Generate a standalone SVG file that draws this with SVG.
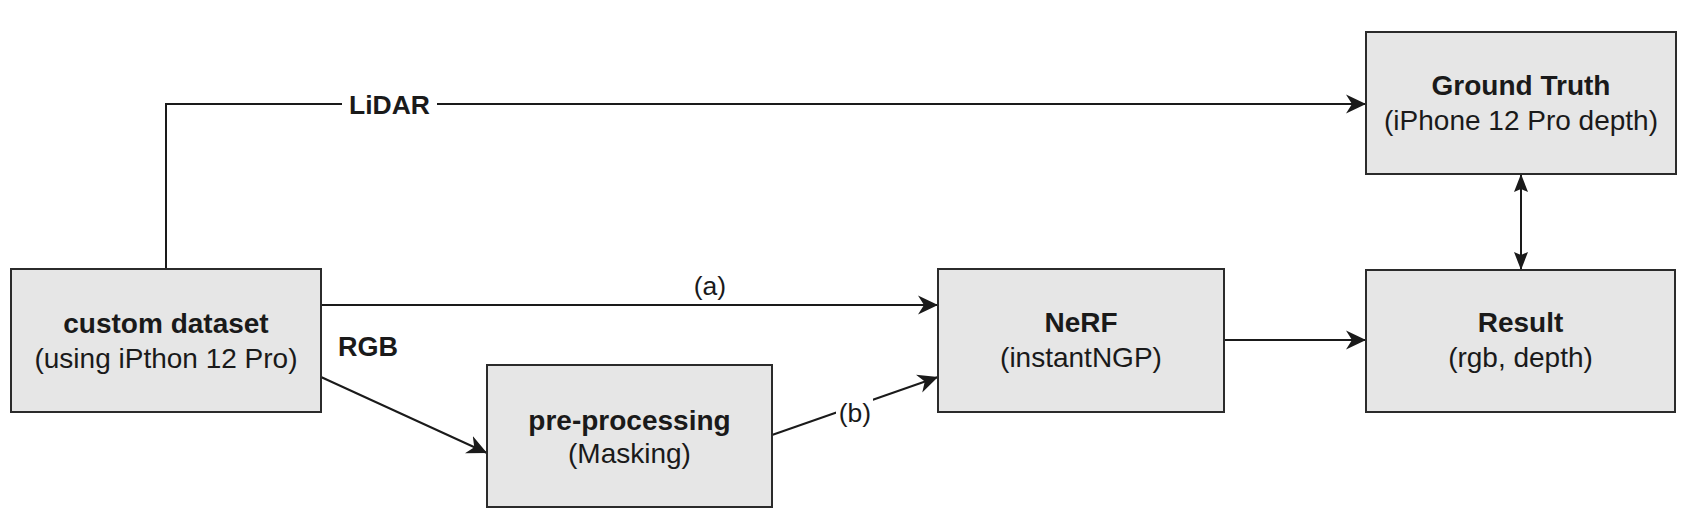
<svg xmlns="http://www.w3.org/2000/svg" width="1706" height="529" viewBox="0 0 1706 529">
  <style>
    .box { fill: #e6e6e6; stroke: #2b2b2b; stroke-width: 2; }
    .t { font-family: "Liberation Sans", Arial, sans-serif; font-size: 28px; fill: #1a1a1a; text-anchor: middle; }
    .b { font-weight: bold; }
    .lbl { font-family: "Liberation Sans", Arial, sans-serif; font-size: 26.5px; fill: #1a1a1a; text-anchor: middle; }
    .edge { fill: none; stroke: #1a1a1a; stroke-width: 2; }
    .bg { fill: #ffffff; }
  </style>
  <defs>
    <marker id="arr" markerUnits="userSpaceOnUse" viewBox="0 0 20 20" refX="20" refY="10" markerWidth="20" markerHeight="20" orient="auto">
      <path d="M0,0.5 L20,10 L0,19.5 L6,10 Z" fill="#1a1a1a"/>
    </marker>
    <marker id="arrs" markerUnits="userSpaceOnUse" viewBox="0 0 18 14" refX="18" refY="7" markerWidth="18" markerHeight="14" orient="auto-start-reverse">
      <path d="M0,0 L18,7 L0,14 L3,7 Z" fill="#1a1a1a"/>
    </marker>
  </defs>
  <rect width="1706" height="529" fill="#ffffff"/>

  <g id="connectors">
    <path class="edge" d="M166,269 V104 H1366" marker-end="url(#arr)"/>
    <rect class="bg" x="342" y="90" width="95" height="28"/>
    <text class="lbl b" x="389.5" y="114">LiDAR</text>

    <path class="edge" d="M321,305 H938" marker-end="url(#arr)"/>
    <text class="lbl" x="710" y="295">(a)</text>

    <path class="edge" d="M321,377 L487,453" marker-end="url(#arr)"/>
    <text class="lbl b" x="368" y="356" style="font-size:27px">RGB</text>

    <path class="edge" d="M772,435 L938,377" marker-end="url(#arr)"/>
    <rect class="bg" x="836" y="398" width="37" height="32"/>
    <text class="lbl" x="855" y="422">(b)</text>

    <path class="edge" d="M1224,340 H1366" marker-end="url(#arr)"/>

    <path class="edge" d="M1521,174 V270" marker-start="url(#arrs)" marker-end="url(#arrs)"/>
  </g>

  <g id="node-custom-dataset">
    <rect class="box" x="11" y="269" width="310" height="143"/>
    <text class="t b" x="166" y="333">custom dataset</text>
    <text class="t" x="166" y="368">(using iPthon 12 Pro)</text>
  </g>

  <g id="node-preprocessing">
    <rect class="box" x="487" y="365" width="285" height="142"/>
    <text class="t b" x="629.5" y="430">pre-processing</text>
    <text class="t" x="629.5" y="463">(Masking)</text>
  </g>

  <g id="node-nerf">
    <rect class="box" x="938" y="269" width="286" height="143"/>
    <text class="t b" x="1081" y="332">NeRF</text>
    <text class="t" x="1081" y="367">(instantNGP)</text>
  </g>

  <g id="node-result">
    <rect class="box" x="1366" y="270" width="309" height="142"/>
    <text class="t b" x="1520.5" y="332">Result</text>
    <text class="t" x="1520.5" y="367">(rgb, depth)</text>
  </g>

  <g id="node-ground-truth">
    <rect class="box" x="1366" y="32" width="310" height="142"/>
    <text class="t b" x="1521" y="95">Ground Truth</text>
    <text class="t" x="1521" y="130">(iPhone 12 Pro depth)</text>
  </g>
</svg>
